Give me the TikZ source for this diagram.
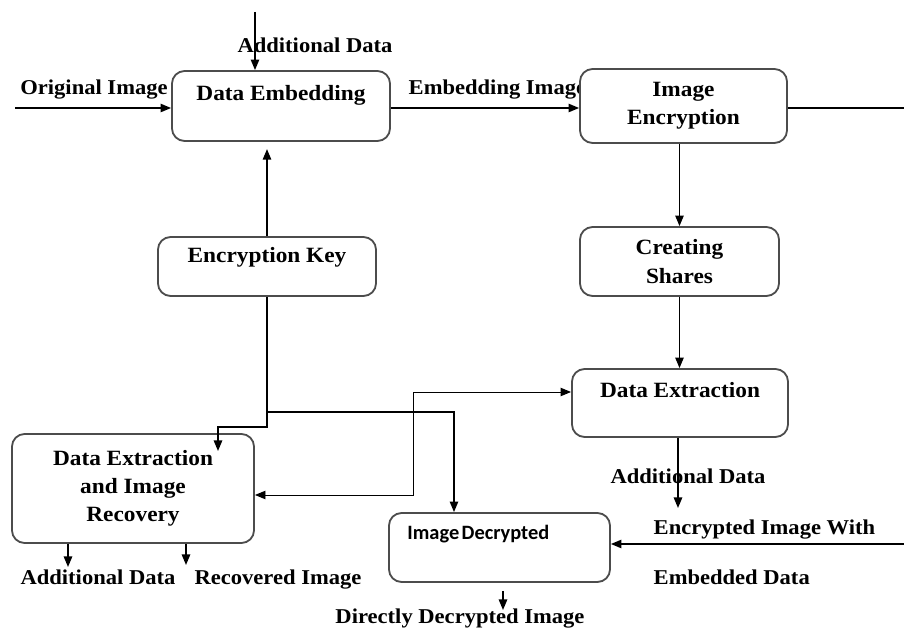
\documentclass[tikz,border=0pt]{standalone}
\usepackage{fontspec}
\setmainfont[FakeStretch=1.07]{Liberation Serif}
\newfontfamily\decfont{Carlito}
\usetikzlibrary{arrows.meta,calc,positioning}
\tikzset{FLOW style/.style={>={Triangle[length=7.5pt,width=6pt]},line width=1pt,every node/.style={inner sep=0pt}},
	box/.style={draw=black!70,line width=1.3pt,rounded corners=9pt,fill=white,align=center,font=\fontsize{15.5}{20}\selectfont\bfseries},
	lbl/.style={anchor=base,font=\fontsize{15}{19}\selectfont\bfseries}}

\begin{document}
\begin{tikzpicture}[FLOW style,x=0.025cm,y=-0.025cm]
	\useasboundingbox (0,0) rectangle (904,629);
	
	% labels
	\node[lbl] (adtopl) at (315,53) {Additional Data};
	\node[lbl] (oil) at (94,95) {Original Image};
	\node[lbl,anchor=base west] (eil) at (408,95) {Embedding Image};
	\node[lbl] (adrl) at (688,484) {Additional Data};
	\node[lbl,anchor=base west] (eiw) at (653,535) {Encrypted Image With};
	\node[lbl,anchor=base west] (edl) at (653,585) {Embedded Data};
	\node[lbl] (adll) at (98,585) {Additional Data};
	\node[lbl] (ril) at (278,585) {Recovered Image};
	\node[lbl] (ddl) at (460,624) {Directly Decrypted Image};
	
	% boxes
	\node[box,minimum width=5.45cm,minimum height=1.75cm,text height=0.75cm,text depth=1cm] (emb) at (281,106) {Data Embedding};
	\node[box,minimum width=5.175cm,minimum height=1.85cm] (enc) at (683.5,106) {Image\\Encryption};
	\node[box,minimum width=5.45cm,minimum height=1.475cm,text height=0.65cm,text depth=0.825cm] (key) at (267,266.5) {Encryption Key};
	\node[box,minimum width=4.975cm,minimum height=1.725cm] (shares) at (679.5,261.5) {Creating\\Shares};
	\node[box,minimum width=5.4cm,minimum height=1.7cm,text height=0.725cm,text depth=0.975cm] (dex) at (680,403) {Data Extraction};
	\node[box,minimum width=6.05cm,minimum height=2.725cm] (rec) at (133,488.5) {Data Extraction\\and Image\\Recovery};
	\node[box,minimum width=5.525cm,minimum height=1.725cm,text width=4.6cm,align=left,text height=0.675cm,text depth=1.05cm,font=\decfont\fontsize{14.5}{17}\selectfont\bfseries] (dec) at (499.5,547.5) {Image\hspace{0.12em}Decrypted};
	
	% free ends and bends
	\coordinate (adtop) at (255,12);
	\coordinate (oi) at (15,108);
	\coordinate (encout) at (904,108);
	\coordinate (keyjoin) at (267,412);
	\coordinate (keybend) at (218,427);
	\coordinate (recin) at (218,451);
	\coordinate (decin) at (454,412);
	\coordinate (crosstop) at (413,392);
	\coordinate (crossbot) at (413,495);
	\coordinate (dexout) at (678,508);
	\coordinate (ein) at (904,544);
	\coordinate (decout) at (503,610);
	\coordinate (adlout) at (68,567);
	\coordinate (riout) at (186,565);
	
	\draw[->] (adtop) -- (adtop |- emb.north);
	\draw[->] (oi) -- (oi -| emb.west);
	\draw[->] (oi -| emb.east) -- (oi -| enc.west);
	\draw (encout -| enc.east) -- (encout);
	\draw[->] (shares.north |- enc.south) -- (shares.north);
	\draw[->] (shares.south) -- (shares.south |- dex.north);
	
	\draw[->,shorten >=0.18cm] (key.north) -- (key.north |- emb.south);
	\draw[->] (key.south) |- (keybend) -- (recin);
	\draw[->] (keyjoin) -- (decin) -- (decin |- dec.north);
	\draw[<->,line width=0.7pt] (crossbot -| rec.east) -- (crossbot) -- (crosstop) -- (crosstop -| dex.west);
	
	\draw[->] (dex.south -| dexout) -- (dexout);
	\draw[->] (ein) -- (ein -| dec.east);
	\draw[->,shorten <=0.2cm] (dec.south -| decout) -- (decout);
	\draw[->] (rec.south -| adlout) -- (adlout);
	\draw[->] (rec.south -| riout) -- (riout);
\end{tikzpicture}
\end{document}
